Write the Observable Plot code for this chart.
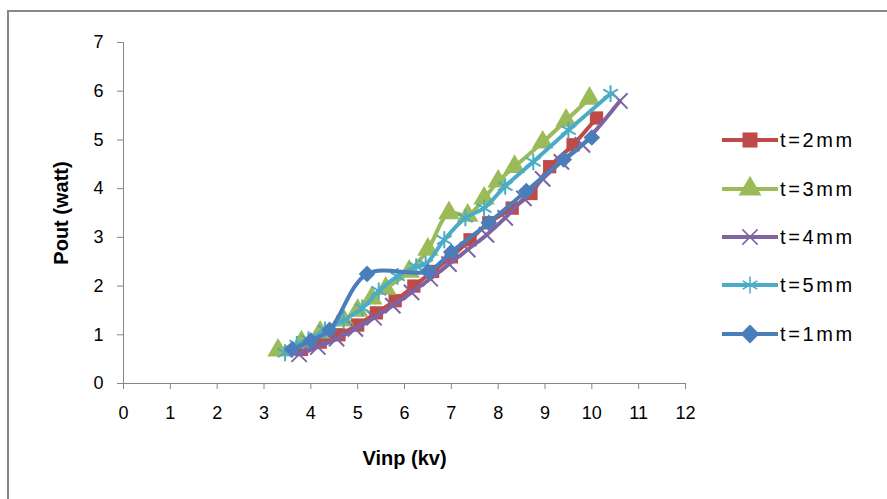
<!DOCTYPE html>
<html>
<head>
<meta charset="utf-8">
<script src="https://cdn.jsdelivr.net/npm/d3@7"></script>
<script src="https://cdn.jsdelivr.net/npm/@observablehq/plot@0.6"></script>
<style>
  html, body { margin: 0; padding: 0; background: #fff; }
  #wrap { position: relative; width: 887px; height: 499px; overflow: hidden; background: #fff; }
  #border { position: absolute; left: 7px; top: 10px; width: 1000px; height: 700px;
            border-left: 2px solid #878787; border-top: 2px solid #878787; }
  #chart { position: absolute; left: 0; top: 0; }
  #chart svg [aria-label="x-axis label"] text,
  #chart svg [aria-label="y-axis label"] text { font-weight: bold; font-size: 20px; }
  #legend { position: absolute; left: 0; top: 0; }
</style>
</head>
<body>
<div id="wrap">
  <div id="border"></div>
  <div id="chart"></div>
  <svg id="legend" width="887" height="499"></svg>
</div>
<script>
// ---- data ----
const seriesNames = ["t=2mm", "t=3mm", "t=4mm", "t=5mm", "t=1mm"];
const seriesColors = ["#BE4B48", "#9BBB59", "#8064A2", "#4BACC6", "#4A7EBB"];
const seriesSymbols = ["square", "triangle", "times", "asterisk", "diamond2"];

const vinp2 = [3.8, 4.2, 4.6, 5.0, 5.4, 5.8, 6.2, 6.6, 7.0, 7.4, 7.8, 8.3, 8.7, 9.1, 9.6, 10.1];
const pout2 = [0.7, 0.85, 1.0, 1.2, 1.45, 1.7, 2.0, 2.3, 2.6, 2.95, 3.3, 3.6, 3.9, 4.45, 4.9, 5.45];

const vinp3 = [3.3, 3.8, 4.2, 4.7, 5.0, 5.3, 5.6, 6.1, 6.5, 6.95, 7.35, 7.7, 8.0, 8.35, 8.95, 9.45, 9.95];
const pout3 = [0.68, 0.85, 1.05, 1.3, 1.5, 1.75, 1.95, 2.3, 2.75, 3.5, 3.45, 3.8, 4.15, 4.45, 4.95, 5.4, 5.85];

const vinp4 = [3.75, 4.15, 4.55, 4.95, 5.35, 5.75, 6.15, 6.55, 6.95, 7.35, 7.75, 8.15, 8.55, 8.95, 9.35, 9.8, 10.6];
const pout4 = [0.6, 0.75, 0.92, 1.12, 1.35, 1.6, 1.87, 2.15, 2.45, 2.75, 3.05, 3.4, 3.8, 4.2, 4.55, 4.9, 5.8];

const vinp5 = [3.45, 3.7, 3.95, 4.3, 4.7, 5.1, 5.45, 5.85, 6.25, 6.45, 6.85, 7.3, 7.7, 8.15, 8.75, 9.5, 10.4];
const pout5 = [0.63, 0.8, 0.9, 1.1, 1.3, 1.55, 1.9, 2.2, 2.4, 2.45, 2.95, 3.4, 3.6, 4.05, 4.55, 5.2, 5.95];

const vinp1 = [3.6, 4.0, 4.4, 5.2, 6.5, 7.0, 7.8, 8.6, 9.4, 10.0];
const pout1 = [0.7, 0.88, 1.1, 2.25, 2.3, 2.7, 3.3, 3.95, 4.6, 5.05];

const xTicks = [0, 1, 2, 3, 4, 5, 6, 7, 8, 9, 10, 11, 12];
const yTicks = [0, 1, 2, 3, 4, 5, 6, 7];

// ---- build ----
const allX = [vinp2, vinp3, vinp4, vinp5, vinp1];
const allY = [pout2, pout3, pout4, pout5, pout1];
const series = seriesNames.map((name, i) => ({
  name, color: seriesColors[i], symbol: seriesSymbols[i],
  data: allX[i].map((x, j) => ({x, y: allY[i][j]}))
}));

const axisGray = "#868686";
const font = "'Liberation Sans', Arial, sans-serif";

const marks = [
  Plot.ruleX([0], {stroke: axisGray, strokeWidth: 1}),
  Plot.ruleY([0], {stroke: axisGray, strokeWidth: 1}),
  Plot.axisX({ticks: xTicks, tickFormat: d => String(d), tickSize: 6, tickPadding: 17, stroke: axisGray, fontSize: 18,
              label: "Vinp (kv)", labelArrow: "none", labelAnchor: "center", labelOffset: 81}),
  Plot.axisY({ticks: yTicks, tickFormat: d => String(d), tickSize: 6, tickPadding: 14, stroke: axisGray, fontSize: 18,
              label: "Pout (watt)", labelArrow: "none", labelAnchor: "center", labelOffset: 70})
];

series.forEach(s => {
  marks.push(Plot.line(s.data, {x: "x", y: "y", stroke: s.color, strokeWidth: 4, curve: "catmull-rom"}));
  const stroked = s.symbol === "times" || s.symbol === "asterisk";
  marks.push(Plot.dot(s.data, stroked
    ? {x: "x", y: "y", symbol: () => s.symbol, r: s.symbol === "asterisk" ? 8 : 7, stroke: s.color, strokeWidth: 2}
    : {x: "x", y: "y", symbol: () => s.symbol, r: s.symbol === "triangle" ? 8 : 7.5, fill: s.color, stroke: "none"}));
});

const chart = Plot.plot({
  width: 887, height: 499,
  marginLeft: 123, marginRight: 202, marginTop: 42, marginBottom: 116,
  x: {domain: [0, 12]},
  y: {domain: [0, 7]},
  symbol: {type: "identity"},
  style: {fontFamily: font, fontSize: "18px", color: "#000", background: "transparent", overflow: "visible"},
  marks
});
document.getElementById("chart").appendChild(chart);

// ---- legend ----
const leg = d3.select("#legend");
const legY = [140, 189, 237, 285, 334];
series.forEach((s, i) => {
  const g = leg.append("g").attr("transform", `translate(0,${legY[i]})`);
  g.append("line").attr("x1", 722).attr("x2", 778).attr("y1", 0).attr("y2", 0)
    .attr("stroke", s.color).attr("stroke-width", 4);
  const symMap = {square: d3.symbolSquare, triangle: d3.symbolTriangle, times: d3.symbolTimes,
                  asterisk: d3.symbolAsterisk, diamond2: d3.symbolDiamond2};
  const stroked = s.symbol === "times" || s.symbol === "asterisk";
  const r = stroked ? (s.symbol === "asterisk" ? 8 : 7) : 8.5;
  g.append("path").attr("transform", "translate(750,0)")
    .attr("d", d3.symbol(symMap[s.symbol], Math.PI * r * r)())
    .attr("fill", stroked ? "none" : s.color)
    .attr("stroke", stroked ? s.color : "none")
    .attr("stroke-width", stroked ? 1.5 : 0);
  g.append("text").attr("x", 780).attr("y", 0).attr("dy", "0.35em")
    .attr("font-family", font).attr("font-size", 20).attr("letter-spacing", "2.6px")
    .attr("fill", "#000").text(s.name);
});
</script>
</body>
</html>
